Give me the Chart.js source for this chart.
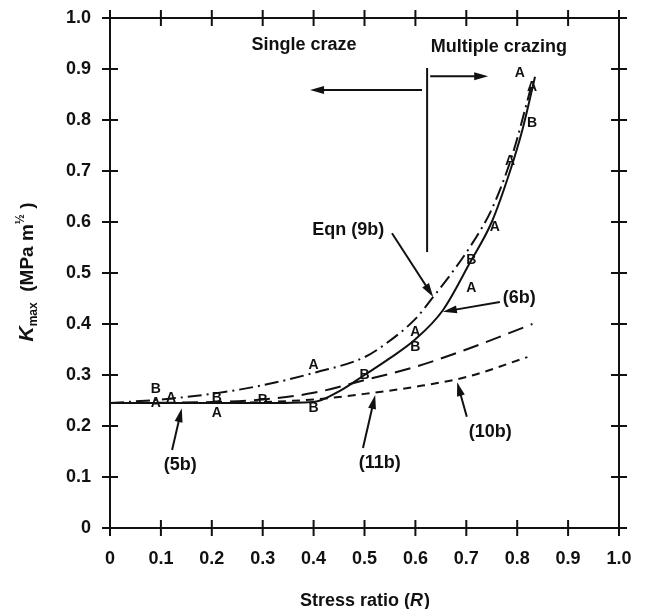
<!DOCTYPE html>
<html>
<head>
<meta charset="utf-8">
<script src="https://cdn.jsdelivr.net/npm/chart.js@4.4.1/dist/chart.umd.min.js"></script>
<style>
  html, body { margin: 0; padding: 0; background: #fff; }
</style>
</head>
<body>
<canvas id="chart" width="645" height="609"></canvas>
<script>
// ================= DATA =================
const tickValues = [0, 0.1, 0.2, 0.3, 0.4, 0.5, 0.6, 0.7, 0.8, 0.9, 1.0];
const tickLabels = ["0", "0.1", "0.2", "0.3", "0.4", "0.5", "0.6", "0.7", "0.8", "0.9", "1.0"];

// eqn (6b) - solid
const r6b = [0, 0.1, 0.2, 0.3, 0.4, 0.45, 0.5, 0.55, 0.6, 0.654, 0.707, 0.75, 0.786, 0.81, 0.835];
const k6b = [0.245, 0.245, 0.245, 0.245, 0.247, 0.268, 0.30, 0.333, 0.37, 0.427, 0.52, 0.60, 0.70, 0.78, 0.885];

// eqn (9b) - dash dot
const r9b = [0, 0.1, 0.2, 0.3, 0.4, 0.5, 0.54, 0.6, 0.635, 0.675, 0.713, 0.75, 0.79, 0.83];
const k9b = [0.245, 0.252, 0.263, 0.28, 0.304, 0.335, 0.36, 0.41, 0.453, 0.505, 0.56, 0.625, 0.73, 0.875];

// eqn (11b) - long dash
const r11b = [0, 0.2, 0.3, 0.4, 0.5, 0.6, 0.7, 0.83];
const k11b = [0.245, 0.247, 0.252, 0.265, 0.29, 0.316, 0.35, 0.40];

// eqn (10b) - short dash
const r10b = [0, 0.2, 0.3, 0.4, 0.5, 0.6, 0.7, 0.82];
const k10b = [0.245, 0.245, 0.247, 0.252, 0.263, 0.277, 0.296, 0.335];

// measured points, lettered A / B
const markR = [0.09, 0.09, 0.12, 0.21, 0.21, 0.30, 0.40, 0.40, 0.50, 0.60, 0.60, 0.71, 0.71, 0.756, 0.786, 0.829, 0.805, 0.829];
const markK = [0.272, 0.245, 0.255, 0.255, 0.225, 0.25, 0.32, 0.235, 0.30, 0.385, 0.355, 0.525, 0.47, 0.59, 0.72, 0.794, 0.892, 0.865];
const markText = ["B", "A", "A", "B", "A", "B", "A", "B", "B", "A", "B", "B", "A", "A", "A", "B", "A", "A"];

// ================= ANNOTATIONS (data units) =================
const notes = [
  { text: "Single craze", r: 0.381, k: 0.947 },
  { text: "Multiple crazing", r: 0.764, k: 0.943 },
  { text: "Eqn (9b)", r: 0.468, k: 0.584 },
  { text: "(6b)", r: 0.804, k: 0.451 },
  { text: "(10b)", r: 0.747, k: 0.188 },
  { text: "(11b)", r: 0.530, k: 0.127 },
  { text: "(5b)", r: 0.138, k: 0.124 }
];
const arrows = [
  { r0: 0.613, k0: 0.859, r1: 0.393, k1: 0.859 },
  { r0: 0.629, k0: 0.886, r1: 0.743, k1: 0.886 },
  { r0: 0.554, k0: 0.578, r1: 0.635, k1: 0.453 },
  { r0: 0.766, k0: 0.443, r1: 0.654, k1: 0.424 },
  { r0: 0.701, k0: 0.218, r1: 0.682, k1: 0.286 },
  { r0: 0.497, k0: 0.157, r1: 0.521, k1: 0.261 },
  { r0: 0.122, k0: 0.153, r1: 0.141, k1: 0.235 }
];
const divider = { r: 0.623, k0: 0.902, k1: 0.541 };

const FONT = "'Liberation Sans', Arial, sans-serif";
const INK = "#111";

function pts(xs, ys) {
  return xs.map((v, i) => ({ x: v, y: ys[i] }));
}

function curve(data, dash) {
  return {
    data: data,
    showLine: true,
    borderColor: INK,
    borderWidth: 2,
    borderDash: dash,
    pointRadius: 0,
    cubicInterpolationMode: "monotone"
  };
}

function noPad(s) {
  s.paddingTop = 0;
  s.paddingBottom = 0;
  s.paddingLeft = 0;
  s.paddingRight = 0;
}

// ================= PLUGIN =================
function arrow(ctx, x0, y0, x1, y1) {
  const ang = Math.atan2(y1 - y0, x1 - x0);
  const len = 14, wid = 4;
  ctx.beginPath();
  ctx.moveTo(x0, y0);
  ctx.lineTo(x1 - Math.cos(ang) * len * 0.8, y1 - Math.sin(ang) * len * 0.8);
  ctx.stroke();
  ctx.beginPath();
  ctx.moveTo(x1, y1);
  ctx.lineTo(x1 - Math.cos(ang) * len - Math.sin(ang) * wid, y1 - Math.sin(ang) * len + Math.cos(ang) * wid);
  ctx.lineTo(x1 - Math.cos(ang) * len + Math.sin(ang) * wid, y1 - Math.sin(ang) * len - Math.cos(ang) * wid);
  ctx.closePath();
  ctx.fill();
}

const decor = {
  id: "decor",
  afterDraw(chart) {
    const ctx = chart.ctx;
    const x = chart.scales.x, y = chart.scales.y;
    const a = chart.chartArea;
    ctx.save();
    ctx.strokeStyle = INK;
    ctx.fillStyle = INK;
    ctx.lineWidth = 2;

    // frame
    ctx.strokeRect(a.left, a.top, a.right - a.left, a.bottom - a.top);

    // ticks crossing all four sides
    ctx.beginPath();
    tickValues.forEach(v => {
      const xp = x.getPixelForValue(v), yp = y.getPixelForValue(v);
      ctx.moveTo(xp, a.top - 8); ctx.lineTo(xp, a.top + 8);
      ctx.moveTo(xp, a.bottom - 8); ctx.lineTo(xp, a.bottom + 8);
      ctx.moveTo(a.left - 8, yp); ctx.lineTo(a.left + 8, yp);
      ctx.moveTo(a.right - 8, yp); ctx.lineTo(a.right + 8, yp);
    });
    ctx.stroke();

    // regime divider and arrows
    ctx.beginPath();
    ctx.moveTo(x.getPixelForValue(divider.r), y.getPixelForValue(divider.k0));
    ctx.lineTo(x.getPixelForValue(divider.r), y.getPixelForValue(divider.k1));
    ctx.stroke();
    arrows.forEach(ar => {
      arrow(ctx, x.getPixelForValue(ar.r0), y.getPixelForValue(ar.k0),
        x.getPixelForValue(ar.r1), y.getPixelForValue(ar.k1));
    });

    // notes
    ctx.font = "bold 18px " + FONT;
    ctx.textAlign = "center";
    ctx.textBaseline = "middle";
    notes.forEach(n => {
      ctx.fillText(n.text, x.getPixelForValue(n.r), y.getPixelForValue(n.k));
    });

    // point letters
    const meta = chart.getDatasetMeta(4);
    ctx.font = "bold 14px " + FONT;
    meta.data.forEach((p, i) => {
      ctx.fillText(markText[i], p.x, p.y);
    });

    // x title: Stress ratio (R)
    ctx.textAlign = "left";
    ctx.textBaseline = "alphabetic";
    const tx = (a.left + a.right) / 2;
    const t1 = "Stress ratio (", t2 = "R", t3 = ")";
    ctx.font = "bold 18px " + FONT;
    const w1 = ctx.measureText(t1).width, w3 = ctx.measureText(t3).width;
    ctx.font = "italic bold 18px " + FONT;
    const w2 = ctx.measureText(t2).width;
    let sx = tx - (w1 + w2 + w3) / 2;
    ctx.font = "bold 18px " + FONT;
    ctx.fillText(t1, sx, 606);
    ctx.font = "italic bold 18px " + FONT;
    ctx.fillText(t2, sx + w1, 606);
    ctx.font = "bold 18px " + FONT;
    ctx.fillText(t3, sx + w1 + w2 + 1, 606);

    // y title: K max (MPa m^1/2)
    ctx.translate(33, 272);
    ctx.rotate(-Math.PI / 2);
    const parts = [
      { s: "K", f: "italic bold 21px " + FONT, dy: 0 },
      { s: "max", f: "bold 12px " + FONT, dy: 4 },
      { s: "  (MPa m", f: "bold 19px " + FONT, dy: 0 },
      { s: "½", f: "bold 12px " + FONT, dy: -9 },
      { s: " )", f: "bold 19px " + FONT, dy: 0 }
    ];
    let total = 0;
    parts.forEach(p => { ctx.font = p.f; p.w = ctx.measureText(p.s).width; total += p.w; });
    let cx = -total / 2;
    parts.forEach(p => {
      ctx.font = p.f;
      ctx.fillText(p.s, cx, p.dy);
      cx += p.w;
    });
    ctx.restore();
  }
};

// ================= CHART =================
new Chart(document.getElementById("chart"), {
  type: "scatter",
  data: {
    datasets: [
      curve(pts(r6b, k6b), []),
      curve(pts(r9b, k9b), [14, 5, 2, 5]),
      curve(pts(r11b, k11b), [16, 8]),
      curve(pts(r10b, k10b), [8, 6]),
      { data: pts(markR, markK), pointRadius: 0, showLine: false }
    ]
  },
  options: {
    responsive: false,
    animation: false,
    layout: { padding: { top: 18, right: 26, left: 0, bottom: 0 } },
    plugins: { legend: { display: false }, tooltip: { enabled: false } },
    scales: {
      x: {
        type: "linear",
        min: 0,
        max: 1,
        afterFit: s => { s.height = 81; noPad(s); },
        afterBuildTicks: s => { s.ticks = tickValues.map(v => ({ value: v })); },
        grid: { display: false, drawTicks: false },
        border: { display: false },
        ticks: {
          padding: 20,
          color: INK,
          font: { family: FONT, size: 18, weight: "bold" },
          callback: (v, i) => tickLabels[i]
        }
      },
      y: {
        type: "linear",
        min: 0,
        max: 1,
        afterFit: s => { s.width = 110; noPad(s); },
        afterBuildTicks: s => { s.ticks = tickValues.map(v => ({ value: v })); },
        grid: { display: false, drawTicks: false },
        border: { display: false },
        ticks: {
          padding: 19,
          color: INK,
          font: { family: FONT, size: 18, weight: "bold" },
          callback: (v, i) => tickLabels[i]
        }
      }
    }
  },
  plugins: [decor]
});
</script>
</body>
</html>
